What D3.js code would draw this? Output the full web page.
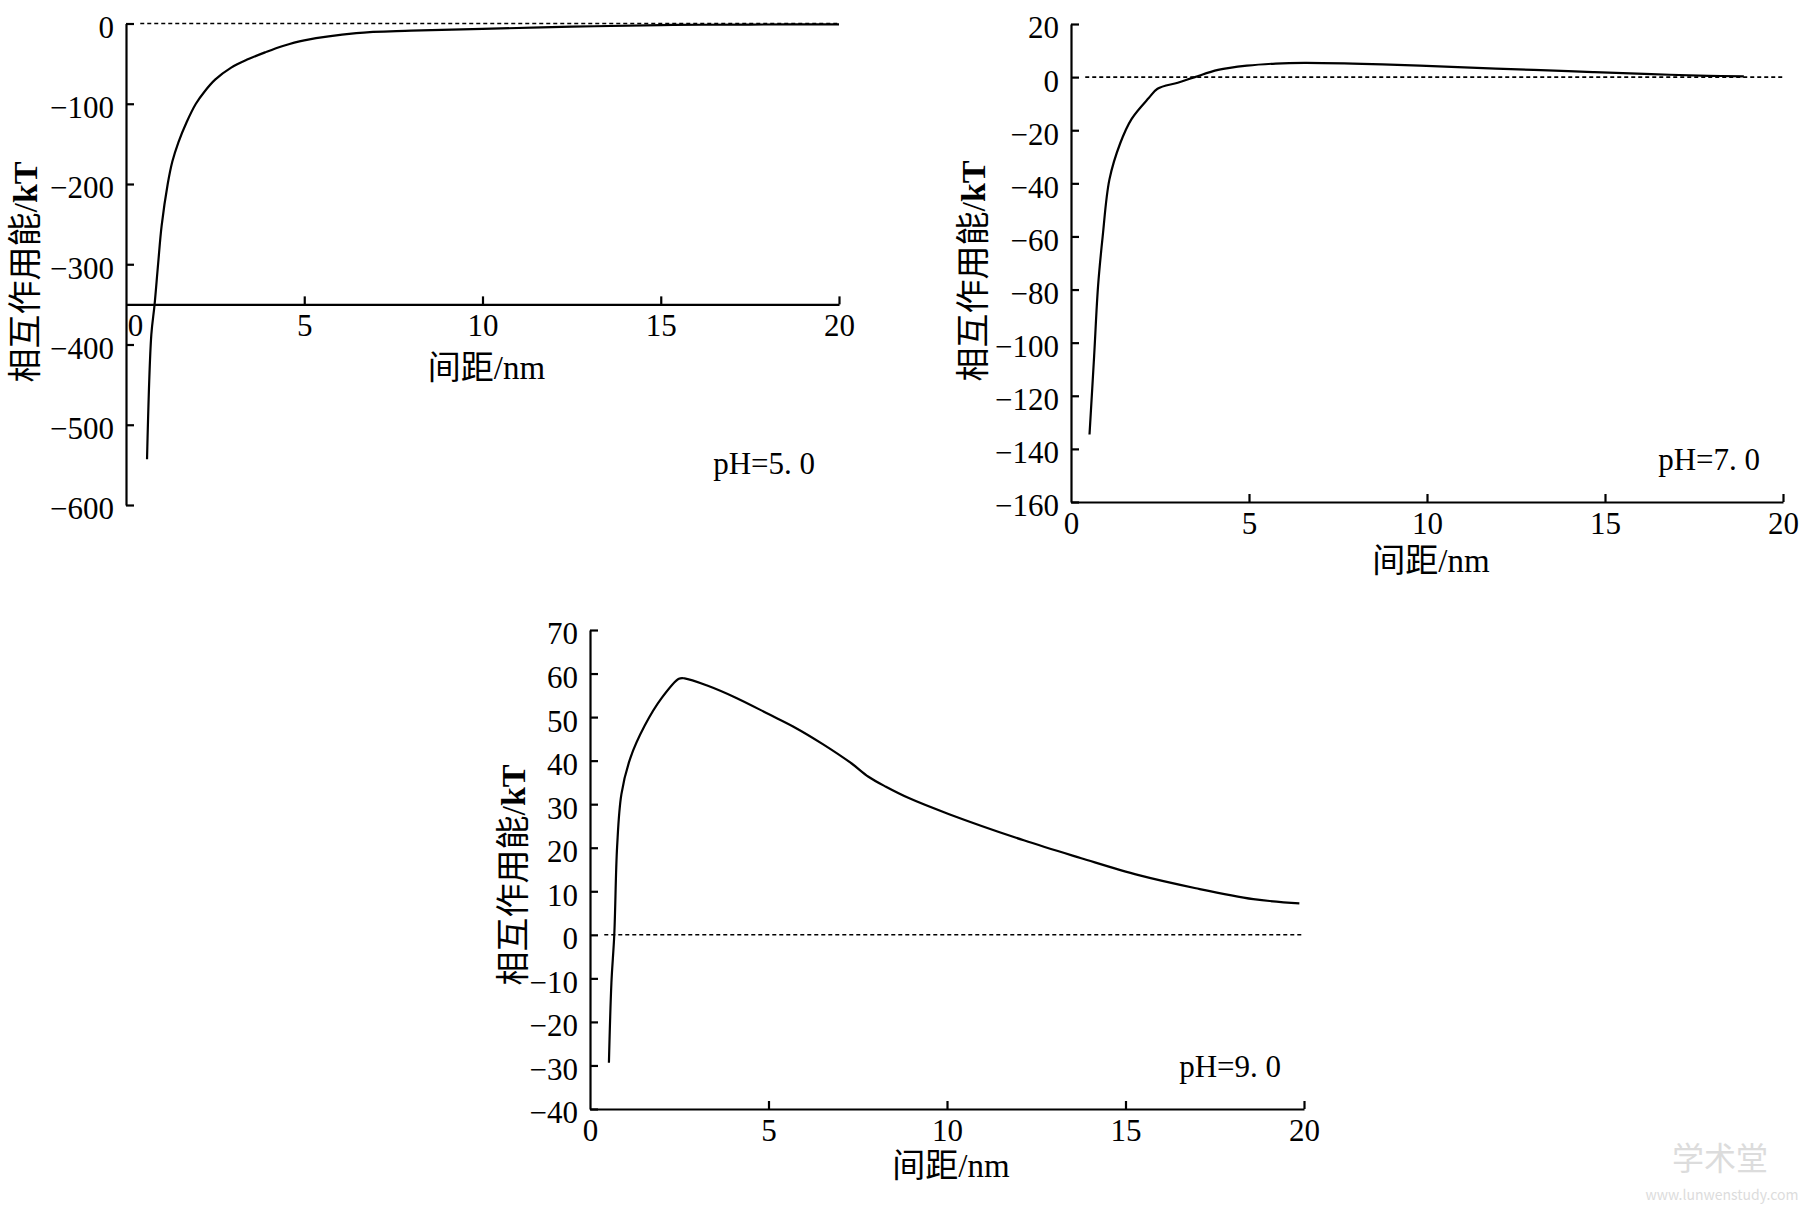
<!DOCTYPE html>
<html>
<head>
<meta charset="utf-8">
<script src="https://cdn.jsdelivr.net/npm/d3@7"></script>
<style>
  html, body { margin: 0; padding: 0; background: #fff; }
  svg { display: block; }
</style>
</head>
<body>
<svg id="chart" width="1806" height="1211"></svg>
<script>
// ---------------- data ----------------
const xTicks = [0, 5, 10, 15, 20];
const yTicksPH5 = [0, -100, -200, -300, -400, -500, -600];
const yTicksPH7 = [20, 0, -20, -40, -60, -80, -100, -120, -140, -160];
const yTicksPH9 = [70, 60, 50, 40, 30, 20, 10, 0, -10, -20, -30, -40];

const distPH5 = [0.59, 0.71, 0.80, 0.90, 1.0, 1.17, 1.3, 1.47, 1.7, 1.96, 2.2, 2.5, 2.95, 3.4, 3.9, 4.4, 5.0, 6.46, 8.0, 10.0, 12.5, 15.0, 17.5, 20.0];
const energyPH5 = [-543, -388, -351, -300, -252, -200, -172, -148, -123, -100, -85, -70, -55, -45, -36, -28, -21, -12, -9, -6.7, -4, -2, -1.3, -1];

const distPH7 = [0.52, 0.65, 0.76, 0.89, 1.08, 1.38, 1.70, 2.19, 2.43, 3.0, 3.48, 4.13, 4.94, 5.75, 6.56, 8.18, 9.8, 11.4, 13.0, 14.66, 16.3, 17.9, 18.9];
const energyPH7 = [-134.6, -105, -78.7, -60, -38.5, -25, -15.8, -7.8, -4.4, -2.1, 0, 2.7, 4.3, 5.1, 5.35, 5.0, 4.3, 3.5, 2.7, 1.9, 1.1, 0.5, 0.3];

const distPH9 = [0.53, 0.60, 0.68, 0.76, 0.88, 1.13, 1.53, 2.01, 2.49, 2.65, 3.3, 4.1, 5.0, 5.7, 6.52, 7.32, 7.8, 8.29, 8.93, 10.06, 12.15, 13.76, 15.37, 16.97, 18.58, 19.87];
const energyPH9 = [-29.4, -11, 0, 20.3, 32.3, 40.6, 48, 54.4, 58.8, 58.9, 57.2, 54.4, 50.7, 47.8, 43.8, 39.4, 36.3, 34.0, 31.4, 27.7, 21.7, 17.6, 13.7, 10.7, 8.2, 7.2];

const panelLabels = ["pH=5. 0", "pH=7. 0", "pH=9. 0"];
const xTitle = "间距/nm";
const yTitleCJK = "相互作用能/";
const yTitleUnit = "kT";

// ---------------- layout ----------------
const panels = [
  { dist: distPH5, energy: energyPH5, yTicks: yTicksPH5, yDomain: [-600, 0], xAxisAt: -350,
    left: 126, right: 839, top: 23.5, bottom: 505, zeroNudge: 9,
    yTitleX: 25, yTitleY: 272, xTitleY: 379, labelX: 815, labelY: 474, label: panelLabels[0] },
  { dist: distPH7, energy: energyPH7, yTicks: yTicksPH7, yDomain: [-160, 20], xAxisAt: -160,
    left: 1071, right: 1783, top: 24, bottom: 502, zeroNudge: 0,
    yTitleX: 973, yTitleY: 271, xTitleY: 572, labelX: 1760, labelY: 470, label: panelLabels[1] },
  { dist: distPH9, energy: energyPH9, yTicks: yTicksPH9, yDomain: [-40, 70], xAxisAt: -40,
    left: 590, right: 1304, top: 630, bottom: 1109, zeroNudge: 0,
    yTitleX: 513, yTitleY: 875, xTitleY: 1177, labelX: 1281, labelY: 1077, label: panelLabels[2] }
];

const FONT = "'Liberation Serif', 'Times New Roman', 'Noto Sans CJK SC', serif";
const svg = d3.select("#chart");
const fmt = d => (d < 0 ? "\u2212" + Math.abs(d) : String(d));

panels.forEach(p => {
  const x = d3.scaleLinear().domain([0, 20]).range([p.left, p.right]);
  const y = d3.scaleLinear().domain(p.yDomain).range([p.bottom, p.top]);
  const g = svg.append("g");

  const yAxis = g.append("g")
    .attr("transform", `translate(${p.left},0)`)
    .call(d3.axisLeft(y).tickValues(p.yTicks).tickSize(-8).tickSizeOuter(0).tickPadding(12).tickFormat(fmt));
  const xAxis = g.append("g")
    .attr("transform", `translate(0,${y(p.xAxisAt)})`)
    .call(d3.axisBottom(x).tickValues(xTicks).tickSize(-8).tickSizeOuter(0).tickPadding(10).tickFormat(fmt));

  [yAxis, xAxis].forEach(a => {
    a.select(".domain").attr("stroke", "#000").attr("stroke-width", 2.2);
    a.selectAll(".tick line").attr("stroke", "#000").attr("stroke-width", 2.2);
    a.selectAll(".tick text").attr("fill", "#000")
      .style("font-family", FONT).style("font-size", "31px");
  });
  yAxis.selectAll(".tick text").attr("dy", "0.45em");
  xAxis.selectAll(".tick").filter(d => d === 0).select("line").remove();
  xAxis.selectAll(".tick").filter(d => d === 0).select("text").attr("x", p.zeroNudge);

  g.append("line")
    .attr("x1", x(0.4)).attr("x2", x(20))
    .attr("y1", y(0)).attr("y2", y(0))
    .attr("stroke", "#000").attr("stroke-width", 1.6)
    .attr("stroke-dasharray", "4,3");

  const pts = p.dist.map((d, i) => [d, p.energy[i]]);
  g.append("path")
    .datum(pts)
    .attr("fill", "none")
    .attr("stroke", "#000")
    .attr("stroke-width", 2.2)
    .attr("d", d3.line().x(d => x(d[0])).y(d => y(d[1])).curve(d3.curveCatmullRom.alpha(0.5)));

  g.append("text")
    .attr("x", (p.left + p.right) / 2 + 4).attr("y", p.xTitleY)
    .attr("text-anchor", "middle")
    .style("font-family", FONT).style("font-size", "33px")
    .text(xTitle);

  const yt = g.append("text")
    .attr("transform", `translate(${p.yTitleX},${p.yTitleY}) rotate(-90)`)
    .attr("text-anchor", "middle")
    .attr("dy", "0.36em")
    .style("font-family", FONT).style("font-size", "34px");
  yt.append("tspan").text(yTitleCJK);
  yt.append("tspan").style("font-weight", "bold").text(yTitleUnit);

  g.append("text")
    .attr("x", p.labelX).attr("y", p.labelY)
    .attr("text-anchor", "end")
    .style("font-family", FONT).style("font-size", "31px")
    .text(p.label);
});

// faint watermark
const wm = svg.append("g").style("font-family", "'Noto Sans CJK SC', sans-serif").attr("fill", "#dcdcdc");
wm.append("text").attr("x", 1720).attr("y", 1170).attr("text-anchor", "middle")
  .style("font-size", "32px").text("学术堂");
wm.append("text").attr("x", 1722).attr("y", 1200).attr("text-anchor", "middle")
  .style("font-size", "14px").text("www.lunwenstudy.com");
</script>
</body>
</html>
